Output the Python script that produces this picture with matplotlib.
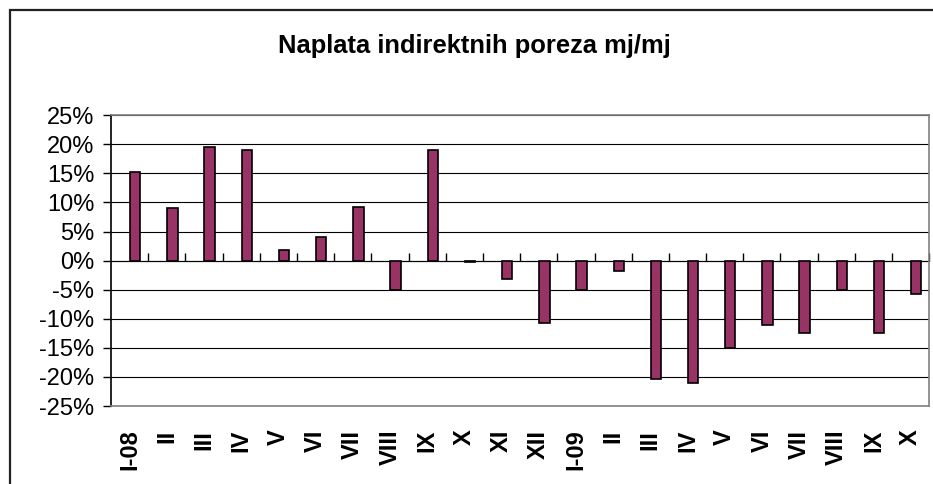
import matplotlib.pyplot as plt
from matplotlib.patches import Rectangle
from matplotlib.ticker import FuncFormatter, MultipleLocator, NullFormatter

plt.rcParams['font.family'] = ['Liberation Sans', 'DejaVu Sans']
plt.rcParams['axes.unicode_minus'] = False

# Monthly change in indirect tax collection (%), Jan 2008 - Oct 2009
months = ['I-08', 'II', 'III', 'IV', 'V', 'VI', 'VII', 'VIII', 'IX', 'X', 'XI', 'XII',
          'I-09', 'II', 'III', 'IV', 'V', 'VI', 'VII', 'VIII', 'IX', 'X']
change = [15.3, 9.0, 19.6, 19.0, 1.9, 4.0, 9.3, -5.0, 19.0, -0.3, -3.1, -10.7,
          -5.1, -1.8, -20.4, -21.1, -15.1, -11.1, -12.5, -5.1, -12.5, -5.8]

fig = plt.figure(figsize=(9.33, 4.84), dpi=100)
ax = fig.add_axes([0.119, 0.161, 0.877, 0.601])

# outer chart border (runs off the right and bottom edge)
fig.patches.append(Rectangle((10 / 933, -0.05), 1.0, 1 - 10 / 484 + 0.05,
                             transform=fig.transFigure, fill=False,
                             edgecolor='#222222', linewidth=1.6))

x = list(range(len(months)))
ax.bar([i + 0.15 for i in x], change, width=0.28, color='#993366',
       edgecolor='black', linewidth=1.2, zorder=3)

ax.set_ylim(-25, 25)
ax.set_xlim(-0.5, len(months) - 0.5)
ax.yaxis.set_major_locator(MultipleLocator(5))
ax.yaxis.set_major_formatter(FuncFormatter(lambda v, p: f'{v:.0f}%'))
ax.grid(axis='y', color='black', linewidth=0.8, zorder=0)

ax.set_xticks(x)
ax.set_xticklabels(months, rotation=90, fontweight='bold', fontsize=17)
ax.tick_params(axis='x', length=0, pad=17)
ax.tick_params(axis='y', direction='out', length=6, width=1, pad=6,
               labelsize=17, colors='black')

for side in ['top', 'right', 'bottom']:
    ax.spines[side].set_color('#808080')
    ax.spines[side].set_linewidth(1.2)
ax.spines['left'].set_color('black')
ax.spines['left'].set_linewidth(1.2)

# category axis at 0% with ticks between categories
cat_axis = ax.secondary_xaxis(0.5)
cat_axis.set_xticks([i + 0.5 for i in x])
cat_axis.xaxis.set_major_formatter(NullFormatter())
cat_axis.tick_params(direction='out', length=6, width=1)
cat_axis.spines['bottom'].set_color('black')
cat_axis.spines['bottom'].set_linewidth(1.2)

fig.text(0.508, 0.905, 'Naplata indirektnih poreza mj/mj', ha='center',
         va='center', fontsize=18.4, fontweight='bold')

fig.savefig('out.png', dpi=100)
